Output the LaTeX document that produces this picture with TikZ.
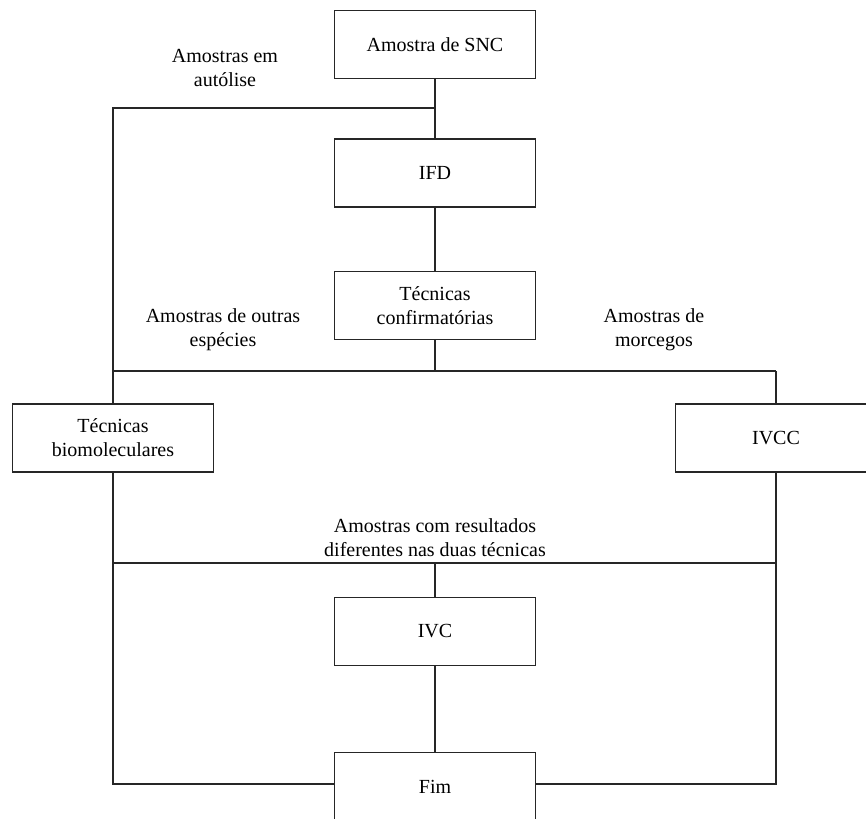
\documentclass[tikz,border=0pt]{standalone}
\usepackage{fontspec}
\setmainfont{Liberation Serif}
\begin{document}
\begin{tikzpicture}[x=1pt,y=-1pt,
  box/.style={draw=black!85,line width=1.1pt,minimum width=201pt,minimum height=68pt,align=center,font=\fontsize{20}{24}\selectfont,inner sep=0pt},
  lbl/.style={align=center,font=\fontsize{20}{24}\selectfont,inner sep=0pt},
  conn/.style={draw=black!85,line width=1.1pt}]
\useasboundingbox (0,0) rectangle (866,818);
\node[box] (snc) at (435,44.5) {Amostra de SNC};
\node[box] (ifd) at (435,173) {IFD};
\node[box] (conf) at (435,305.5) {Técnicas\\confirmatórias};
\node[box] (bio) at (113,438) {Técnicas\\biomoleculares};
\node[box] (ivcc) at (776,438) {IVCC};
\node[box] (ivc) at (435,631.5) {IVC};
\node[box] (fim) at (435,786.5) {Fim};

\node[lbl] (l1) at (225,68) {Amostras em\\autólise};
\node[lbl] (l2) at (223,330) {Amostras de outras\\espécies};
\node[lbl] (l3) at (654,330) {Amostras de\\morcegos};
\node[lbl] (l4) at (435,538) {Amostras com resultados\\diferentes nas duas técnicas};

\coordinate (j1) at (435,108);
\coordinate (c1) at (113,108);
\coordinate (j2) at (435,371);
\coordinate (c2) at (113,371);
\coordinate (c3) at (776,371);
\coordinate (j3) at (435,563);
\coordinate (c4) at (113,563);
\coordinate (c5) at (776,563);
\coordinate (c6) at (113,784);
\coordinate (c7) at (776,784);

\draw[conn] (snc.south) -- (ifd.north);
\draw[conn] (j1) -- (c1) -- (c2);
\draw[conn] (ifd.south) -- (conf.north);
\draw[conn] (conf.south) -- (j2);
\draw[conn] (c2) -- (c3);
\draw[conn] (c2) -- (bio.north);
\draw[conn] (c3) -- (ivcc.north);
\draw[conn] (bio.south) -- (c4) -- (c6) -- (fim.west |- c6);
\draw[conn] (ivcc.south) -- (c5) -- (c7) -- (fim.east |- c7);
\draw[conn] (c4) -- (c5);
\draw[conn] (j3) -- (ivc.north);
\draw[conn] (ivc.south) -- (fim.north);
\end{tikzpicture}
\end{document}
